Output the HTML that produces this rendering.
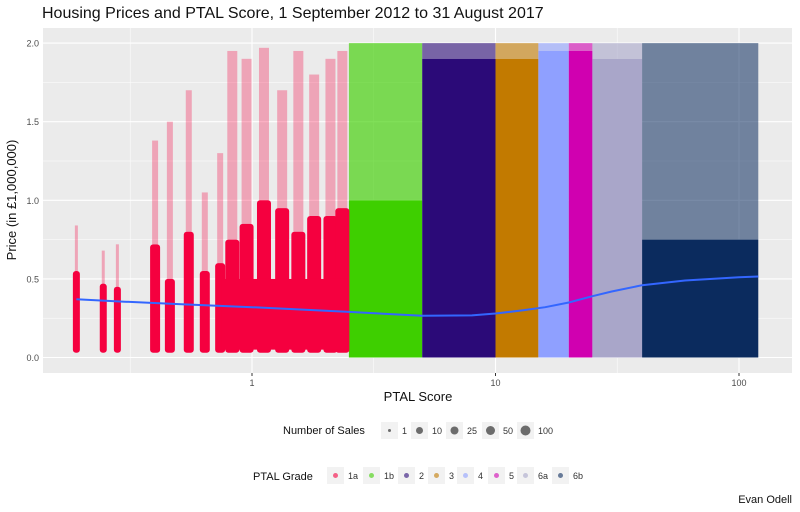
<!DOCTYPE html>
<html><head><meta charset="utf-8">
<style>
body{margin:0;background:#fff;}
svg{display:block;font-family:"Liberation Sans",sans-serif;}
</style></head>
<body>
<svg id="chart" width="800" height="512" viewBox="0 0 800 512">
<text x="42" y="18" font-size="16" fill="#111">Housing Prices and PTAL Score, 1 September 2012 to 31 August 2017</text>
<rect x="43" y="28" width="749" height="345" fill="#ebebeb"/>
<g id="grid"></g>
<g id="marks"></g>
<g id="axes"></g>
<text x="418" y="401" font-size="13" text-anchor="middle" fill="#111">PTAL Score</text>
<text transform="translate(16,200) rotate(-90)" font-size="13" text-anchor="middle" fill="#111">Price (in £1,000,000)</text>
<g id="legend"></g>
<text x="792" y="503" font-size="11" text-anchor="end" fill="#111">Evan Odell</text>
</svg>
<script>
// ---- data ----
const gradeNames = ["1a","1b","2","3","4","5","6a","6b"];
const gradeColors = ["#f5003f","#3ecf00","#2b0a78","#c27a00","#8fa0ff","#d000b0","#a9a6c9","#0b2b5e"];
const gradeLo = [0.19,2.5,5,10,15,20,25,40];
const gradeHi = [2.5,5,10,15,20,25,40,120];
const denseTop = [0,1.0,1.9,1.9,1.95,1.95,1.9,0.75];
const sparseTop = [0,2.0,2.0,2.0,2.0,2.0,2.0,2.0];
const sparseOpacity = [0,0.65,0.6,0.6,0.6,0.6,0.6,0.55];
// grade 1a clusters: ptal, dense top price, max price
const colPtal = [0.19,0.245,0.28,0.4,0.46,0.55,0.64,0.74,0.83,0.95,1.12,1.33,1.55,1.8,2.1,2.35];
const colTop  = [0.55,0.47,0.45,0.72,0.5,0.8,0.55,0.6,0.75,0.85,1.0,0.95,0.8,0.9,0.9,0.95];
const colMax  = [0.84,0.68,0.72,1.38,1.5,1.7,1.05,1.3,1.95,1.9,1.97,1.7,1.95,1.8,1.9,1.95];
// smoothed trend line
const smoothPtal = [0.19,0.3,0.5,1,2.5,5,8,10,13,16,20,25,30,40,60,100,120];
const smoothPrice = [0.37,0.355,0.34,0.32,0.29,0.265,0.268,0.28,0.3,0.32,0.35,0.39,0.42,0.46,0.49,0.51,0.515];
const yTicks = [0,0.5,1.0,1.5,2.0];
const yTickLabels = ["0.0","0.5","1.0","1.5","2.0"];
const xTicks = [1,10,100];
const xTickLabels = ["1","10","100"];
const sizeLabels = ["1","10","25","50","100"];
const sizeRadii = [1.5,3.5,4,4.5,5];

// ---- scales ----
const px = p => 252 + 243.5*Math.log10(p);
const py = v => 357.5 - 157.2*v;
const NS="http://www.w3.org/2000/svg";
function mk(tag,attrs,parent){const e=document.createElementNS(NS,tag);for(const k in attrs)e.setAttribute(k,attrs[k]);parent.appendChild(e);return e;}
const grid=document.getElementById('grid'),marks=document.getElementById('marks'),axes=document.getElementById('axes'),legend=document.getElementById('legend');

// grid
for(let i=0;i<yTicks.length;i++){
  const l=mk('line',{x1:43,x2:792,y1:py(yTicks[i]),y2:py(yTicks[i]),stroke:'#fff','stroke-width':1.1},grid);
  
  if(i<yTicks.length-1){const m=mk('line',{x1:43,x2:792,y1:py((yTicks[i]+yTicks[i+1])/2),y2:py((yTicks[i]+yTicks[i+1])/2),stroke:'#fff','stroke-width':0.5},grid);
  }
  const t=mk('text',{x:39,y:py(yTicks[i])+3.5,'font-size':9,'text-anchor':'end',fill:'#4d4d4d'},axes);t.textContent=yTickLabels[i];
  
}
[0.316,3.16,31.6].forEach(p=>{const m=mk('line',{x1:px(p),x2:px(p),y1:28,y2:373,stroke:'#fff','stroke-width':0.5},grid);
  });
for(let i=0;i<xTicks.length;i++){
  const l=mk('line',{x1:px(xTicks[i]),x2:px(xTicks[i]),y1:28,y2:373,stroke:'#fff','stroke-width':1.1},grid);
  
  const tk=mk('line',{x1:px(xTicks[i]),x2:px(xTicks[i]),y1:373,y2:376,stroke:'#333'},axes);
  
  const t=mk('text',{x:px(xTicks[i]),y:386,'font-size':9,'text-anchor':'middle',fill:'#4d4d4d'},axes);t.textContent=xTickLabels[i];
  
}

// grades 1b..6b: sparse band then dense band
for(let g=1;g<gradeNames.length;g++){
  const x1=px(gradeLo[g]),x2=px(gradeHi[g]);
  const s=mk('rect',{x:x1,y:py(sparseTop[g]),width:x2-x1,height:py(denseTop[g])-py(sparseTop[g]),fill:gradeColors[g],opacity:sparseOpacity[g]},marks);
  
  const d=mk('rect',{x:x1,y:py(denseTop[g]),width:x2-x1,height:py(0)-py(denseTop[g]),fill:gradeColors[g]},marks);
  
}
// grade 1a columns
for(let i=0;i<colPtal.length;i++){
  const cx=px(colPtal[i]);const w=i<3?7:(i<8?10:14);
  const s=mk('rect',{x:cx-w/2+2,y:py(colMax[i]),width:w-4,height:py(colTop[i])-py(colMax[i]),fill:gradeColors[0],opacity:0.3},marks);
  
  const d=mk('rect',{x:cx-w/2,y:py(colTop[i]),width:w,height:py(0.03)-py(colTop[i]),rx:3,fill:gradeColors[0]},marks);
  
}
// fill between 1a columns at low prices
{const d=mk('rect',{x:px(0.75),y:py(0.5),width:px(2.5)-px(0.75),height:py(0.05)-py(0.5),fill:gradeColors[0]},marks);
 }

// smooth line
const pts=smoothPtal.map((p,i)=>px(p).toFixed(1)+','+py(smoothPrice[i]).toFixed(1)).join(' ');
const sl=mk('polyline',{points:pts,fill:'none',stroke:'#3366ff','stroke-width':2},marks);


// legends
let t=mk('text',{x:283,y:434,'font-size':11,fill:'#111'},legend);t.textContent='Number of Sales';

const sizeX=[381,411,446,482,517];
for(let i=0;i<sizeLabels.length;i++){
  const r=mk('rect',{x:sizeX[i],y:422,width:17,height:17,fill:'#f2f2f2'},legend);
  
  const c=mk('circle',{cx:sizeX[i]+8.5,cy:430.5,r:sizeRadii[i],fill:'#555',opacity:0.85},legend);
  
  const l=mk('text',{x:sizeX[i]+21,y:434,'font-size':9,fill:'#333'},legend);l.textContent=sizeLabels[i];
  
}
t=mk('text',{x:253,y:480,'font-size':11,fill:'#111'},legend);t.textContent='PTAL Grade';

const gradeX=[327,363,398,428,457,488,517,552];
for(let i=0;i<gradeNames.length;i++){
  const r=mk('rect',{x:gradeX[i],y:467,width:17,height:17,fill:'#f2f2f2'},legend);
  
  const c=mk('circle',{cx:gradeX[i]+8.5,cy:475.5,r:2.5,fill:gradeColors[i],opacity:0.6},legend);
  
  const l=mk('text',{x:gradeX[i]+21,y:479,'font-size':9,fill:'#333'},legend);l.textContent=gradeNames[i];
  
}
</script>
</body></html>
